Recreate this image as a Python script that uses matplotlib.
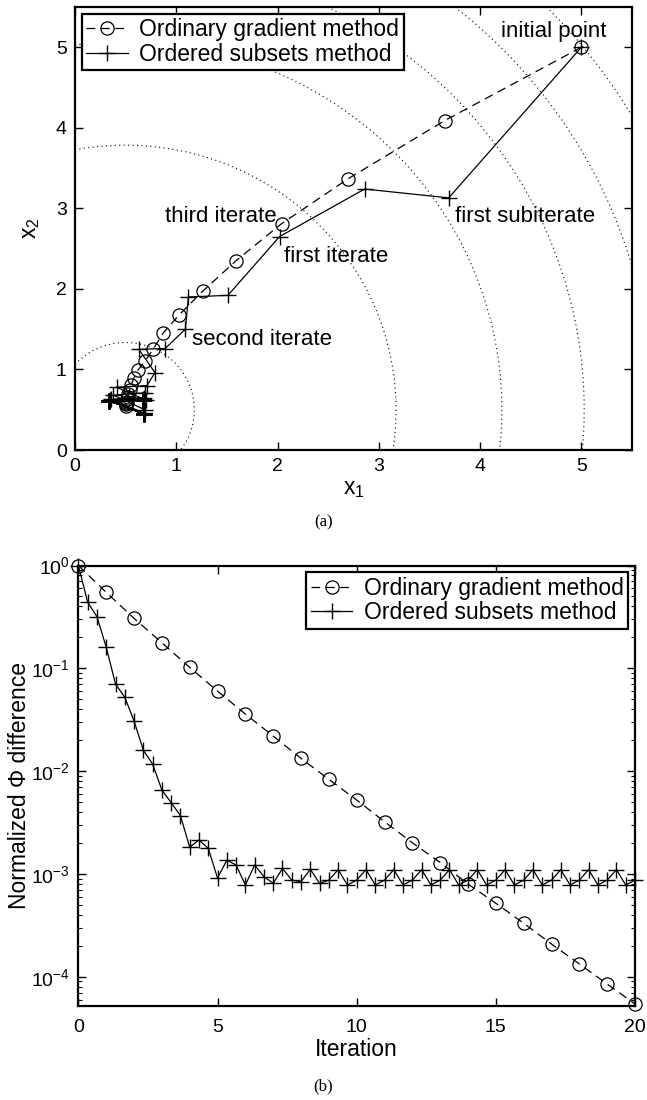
import numpy as np
import matplotlib
matplotlib.use("Agg")
import matplotlib.pyplot as plt

plt.rcParams['font.family'] = ['Liberation Sans', 'DejaVu Sans']
plt.rcParams['mathtext.fontset'] = 'custom'
plt.rcParams['mathtext.rm'] = 'Liberation Sans'
plt.rcParams['mathtext.it'] = 'Liberation Sans:italic'

# ---------------- data: panel (a) ----------------
grad_x = [5.00, 3.65, 2.70, 2.04, 1.59, 1.26, 1.03, 0.87, 0.77, 0.69, 0.62,
          0.58, 0.555, 0.54, 0.527, 0.52, 0.513, 0.509, 0.506, 0.504, 0.503]
grad_y = [5.00, 4.09, 3.37, 2.81, 2.35, 1.97, 1.68, 1.45, 1.25, 1.10, 0.99,
          0.89, 0.81, 0.75, 0.70, 0.66, 0.63, 0.60, 0.58, 0.565, 0.552]

os_x = [5.00, 3.69, 2.86, 2.02, 1.51, 1.12, 1.09, 0.89, 0.63, 0.79,
        0.71, 0.41, 0.70, 0.69, 0.38, 0.69, 0.68, 0.36, 0.68,
        0.67, 0.35, 0.68, 0.67, 0.34, 0.68, 0.67, 0.34, 0.68,
        0.67, 0.34, 0.68, 0.67, 0.34, 0.68, 0.67, 0.34, 0.68,
        0.67, 0.34, 0.68, 0.67, 0.34, 0.68, 0.67, 0.34, 0.68,
        0.67, 0.34, 0.68, 0.67, 0.34, 0.68, 0.67, 0.34, 0.68,
        0.67, 0.34, 0.68, 0.67, 0.34, 0.68]
os_y = [5.00, 3.13, 3.24, 2.65, 1.92, 1.90, 1.50, 1.26, 1.25, 0.96,
        0.80, 0.78, 0.62, 0.71, 0.68, 0.50, 0.65, 0.63, 0.46,
        0.63, 0.62, 0.45, 0.62, 0.61, 0.45, 0.62, 0.61, 0.45,
        0.62, 0.61, 0.45, 0.62, 0.61, 0.45, 0.62, 0.61, 0.45,
        0.62, 0.61, 0.45, 0.62, 0.61, 0.45, 0.62, 0.61, 0.45,
        0.62, 0.61, 0.45, 0.62, 0.61, 0.45, 0.62, 0.61, 0.45,
        0.62, 0.61, 0.45, 0.62, 0.61, 0.45]

# cost contours: centre, axis ratio and levels
contour_center = (0.5, 0.5)
contour_ratio = 1.23
contour_levels = [0.46, 7.13, 13.8, 20.5, 27.1, 33.8]

annotations = [
    ("initial point", 4.21, 5.13),
    ("first subiterate", 3.75, 2.83),
    ("third iterate", 0.89, 2.83),
    ("first iterate", 2.06, 2.34),
    ("second iterate", 1.16, 1.30),
]

# ---------------- data: panel (b) ----------------
grad_phi = [1.0, 0.548, 0.306, 0.177, 0.102, 0.060, 0.0359, 0.0219, 0.0133,
            0.0083, 0.00523, 0.00322, 0.00201, 0.00129, 0.000797, 0.000518,
            0.000331, 0.000208, 0.000133, 8.49e-5, 5.43e-5]
os_phi = [1.0, 0.438, 0.318, 0.160, 0.0704, 0.0522, 0.0307, 0.0160, 0.0117,
          0.00655, 0.00493, 0.00368, 0.00182, 0.00214, 0.00177, 0.00091,
          0.00136, 0.00122, 0.00078, 0.00122, 0.00094, 0.00081, 0.00113,
          0.00087, 0.00084, 0.00111, 0.00081, 0.00087,
          0.00110, 0.00078, 0.00087, 0.00110, 0.00078, 0.00087,
          0.00110, 0.00078, 0.00087, 0.00110, 0.00078, 0.00087,
          0.00110, 0.00078, 0.00087, 0.00110, 0.00078, 0.00087,
          0.00110, 0.00078, 0.00087, 0.00110, 0.00078, 0.00087,
          0.00110, 0.00078, 0.00087, 0.00110, 0.00078, 0.00087,
          0.00110, 0.00078, 0.00087]
subsets = 3

label_grad = "Ordinary gradient method"
label_os = "Ordered subsets method"

# ---------------- figure ----------------
W, H = 647, 1100
fig = plt.figure(figsize=(W / 100, H / 100), dpi=100)

def px_axes(l, r, t, b):
    return fig.add_axes([l / W, 1 - b / H, (r - l) / W, (b - t) / H])

grad_style = dict(color='black', lw=0.9, linestyle=(0, (7, 4.5)), marker='o',
                  ms=9.5, mfc='none', mec='black', mew=0.9, clip_on=False)
os_style = dict(color='black', lw=0.9, linestyle='-', marker='+',
                ms=12, mew=1.0, clip_on=False)

def style_axes(ax):
    for s in ax.spines.values():
        s.set_linewidth(1.6)
    ax.tick_params(direction='in', top=True, right=True, length=6,
                   width=1.0, labelsize=14, pad=6)
    ax.tick_params(which='minor', direction='in', top=True, right=True,
                   length=3, width=0.8)

leg_kw = dict(fontsize=16.5, handlelength=1.8, handletextpad=0.5,
              borderaxespad=0.3, fancybox=False, edgecolor='black',
              framealpha=1, borderpad=0.2, labelspacing=0.05)

# panel (a)
ax1 = px_axes(75, 632, 7, 450)
xs = np.linspace(0, 5.5, 600)
ys = np.linspace(0, 5.5, 600)
X, Y = np.meshgrid(xs, ys)
F = (X - contour_center[0]) ** 2 + ((Y - contour_center[1]) / contour_ratio) ** 2
ax1.contour(X, Y, F, levels=contour_levels, colors='black',
            linewidths=0.8, linestyles=[(0, (1, 3))])
ax1.plot(grad_x, grad_y, label=label_grad, **grad_style)
ax1.plot(os_x, os_y, label=label_os, **os_style)
ax1.set_xlim(0, 5.5)
ax1.set_ylim(0, 5.5)
ax1.set_xticks(range(0, 6))
ax1.set_yticks(range(0, 6))
style_axes(ax1)
ax1.set_xlabel(r'$\mathrm{x}_1$', fontsize=16.5, labelpad=1)
ax1.set_ylabel(r'$\mathrm{x}_2$', fontsize=16.5, labelpad=10)
for txt, tx, ty in annotations:
    ax1.text(tx, ty, txt, fontsize=16, ha='left', va='baseline')
leg1 = ax1.legend(loc='upper left', **leg_kw)
leg1.get_frame().set_linewidth(1.6)

# panel (b)
ax2 = px_axes(78.4, 635, 565.5, 1006)
it_grad = np.arange(len(grad_phi))
it_os = np.arange(len(os_phi)) / subsets
ax2.semilogy(it_grad, grad_phi, label=label_grad, **grad_style)
ax2.semilogy(it_os, os_phi, label=label_os, **os_style)
ax2.set_xlim(0, 20)
ax2.set_ylim(10 ** -4.285, 1.0)
ax2.set_xticks([0, 5, 10, 15, 20])
style_axes(ax2)
ax2.tick_params(axis='x', pad=9)
ax2.set_xlabel('Iteration', fontsize=16.5, labelpad=2)
ax2.set_ylabel('Normalized Φ difference', fontsize=16.5, labelpad=0)
leg2 = ax2.legend(loc='upper right', **leg_kw)
leg2.get_frame().set_linewidth(1.6)

fig.text(323.5 / W, 1 - 522 / H, '(a)', fontsize=12, ha='center', va='center',
         family='Liberation Serif')
fig.text(323.5 / W, 1 - 1086 / H, '(b)', fontsize=12, ha='center', va='center',
         family='Liberation Serif')

fig.savefig('out.png', dpi=100)
